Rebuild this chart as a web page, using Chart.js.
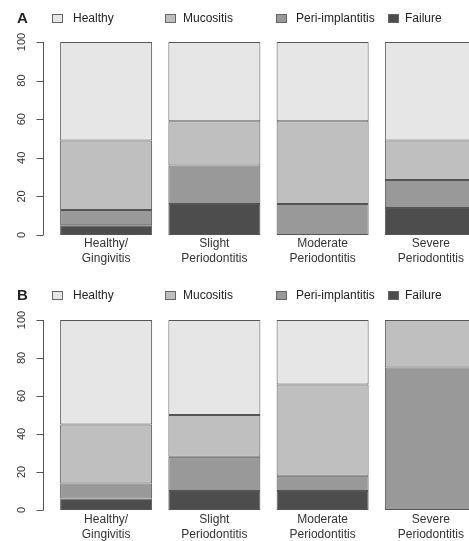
<!DOCTYPE html>
<html>
<head>
<meta charset="utf-8">
<script src="https://cdn.jsdelivr.net/npm/chart.js@4/dist/chart.umd.min.js"></script>
<style>
  html, body { margin: 0; padding: 0; background: #fff; }
  body { width: 469px; height: 541px; overflow: hidden; position: relative; font-family: "Liberation Sans", Arial, sans-serif; color: #222; }
  .panel { position: absolute; left: 0; width: 469px; overflow: hidden; }
  .panel canvas { position: absolute; left: 0; top: 0; }
  .letter { position: absolute; font-weight: bold; font-size: 15px; }
  .leg { position: absolute; font-size: 12px; white-space: nowrap; }
  .box { position: absolute; width: 9px; height: 7px; border: 1px solid #666; }
</style>
</head>
<body>
<div class="panel" id="panelA" style="top:0;height:272px"><canvas id="chartA" width="490" height="272" style="width:490px;height:272px"></canvas></div>
<div class="panel" id="panelB" style="top:272px;height:269px"><canvas id="chartB" width="490" height="280" style="width:490px;height:280px"></canvas></div>

<script>
const categories = [["Healthy/", "Gingivitis"], ["Slight", "Periodontitis"], ["Moderate", "Periodontitis"], ["Severe", "Periodontitis"]];
const seriesNames = ["Healthy", "Mucositis", "Peri-implantitis", "Failure"];
const seriesColors = ["#e6e6e6", "#bfbfbf", "#999999", "#4d4d4d"];
const yTicks = [0, 20, 40, 60, 80, 100];

// panel A (bottom to top: Failure, Peri-implantitis, Mucositis, Healthy)
const failureA = [5, 16, 0, 14];
const periA = [8, 20, 16, 14.5];
const mucositisA = [36, 23, 43, 20.5];
const healthyA = [51, 41, 41, 51];

// panel B
const failureB = [6, 10, 10, 0];
const periB = [8, 18, 8, 75];
const mucositisB = [31, 22, 48, 25];
const healthyB = [55, 50, 34, 0];

// R style y axis, offset from the bars
const rAxis = {
  id: "rAxis",
  afterDraw(chart) {
    const ctx = chart.ctx;
    const y = chart.scales.y;
    const x0 = 43;
    ctx.save();
    ctx.strokeStyle = "#555";
    ctx.lineWidth = 1;
    ctx.beginPath();
    ctx.moveTo(x0 + 0.5, y.getPixelForValue(0));
    ctx.lineTo(x0 + 0.5, y.getPixelForValue(100));
    yTicks.forEach(t => {
      const py = Math.round(y.getPixelForValue(t)) + 0.5;
      ctx.moveTo(x0 + 0.5, py);
      ctx.lineTo(x0 - 6.5, py);
    });
    ctx.stroke();
    ctx.fillStyle = "#333";
    ctx.font = "11px 'Liberation Sans', Arial, sans-serif";
    ctx.textAlign = "center";
    ctx.textBaseline = "middle";
    yTicks.forEach(t => {
      ctx.save();
      ctx.translate(22, y.getPixelForValue(t));
      ctx.rotate(-Math.PI / 2);
      ctx.fillText(String(t), 0, 0);
      ctx.restore();
    });
    ctx.restore();
  }
};

function makeChart(id, data, padTop, padBottom, tickPad) {
  const order = [3, 2, 1, 0]; // draw Failure first so it sits at the bottom
  const datasets = order.map(i => ({
    label: seriesNames[i],
    data: data[i],
    backgroundColor: seriesColors[i],
    borderColor: "#555",
    borderWidth: 1,
    borderSkipped: false,
    barPercentage: 0.85,
    categoryPercentage: 1
  }));
  new Chart(document.getElementById(id), {
    type: "bar",
    data: { labels: categories, datasets },
    options: {
      responsive: false,
      animation: false,
      layout: { padding: { left: 52, right: 5, top: padTop, bottom: padBottom } },
      plugins: { legend: { display: false }, tooltip: { enabled: false } },
      scales: {
        x: {
          stacked: true,
          grid: { display: false, drawTicks: false, tickLength: 0 },
          border: { display: false },
          ticks: { color: "#333", padding: tickPad, font: { family: "'Liberation Sans', Arial, sans-serif", size: 12, lineHeight: 1.25 } }
        },
        y: { stacked: true, display: false, min: 0, max: 100 }
      }
    },
    plugins: [rAxis]
  });
}

makeChart("chartA", [healthyA, mucositisA, periA, failureA], 42, 5, 1);
makeChart("chartB", [healthyB, mucositisB, periB, failureB], 48, 8, 2);

// legends
const legendX = [[52, 73], [165, 183], [276, 296], [388, 405]];
function addLegend(letter, cy) {
  const l = document.createElement("div");
  l.className = "letter";
  l.textContent = letter;
  l.style.left = "17px";
  l.style.top = (cy - 9) + "px";
  document.body.appendChild(l);
  seriesNames.forEach((name, i) => {
    const b = document.createElement("div");
    b.className = "box";
    b.style.background = seriesColors[i];
    b.style.left = legendX[i][0] + "px";
    b.style.top = (cy - 4) + "px";
    document.body.appendChild(b);
    const t = document.createElement("div");
    t.className = "leg";
    t.textContent = name;
    t.style.left = legendX[i][1] + "px";
    t.style.top = (cy - 7) + "px";
    document.body.appendChild(t);
  });
}
addLegend("A", 18);
addLegend("B", 295);
</script>
</body>
</html>
